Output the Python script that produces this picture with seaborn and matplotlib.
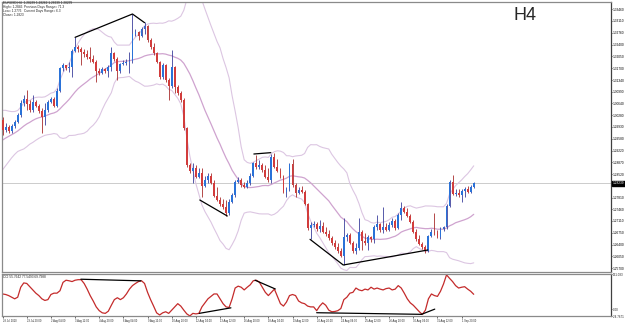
import numpy as np
import pandas as pd
import matplotlib
matplotlib.use("Agg")
import matplotlib.pyplot as plt
import matplotlib.transforms as mtransforms
import seaborn as sns

sns.set_style("white")
plt.rcParams["font.family"] = ["Liberation Sans", "DejaVu Sans"]

# EURUSD H4, 28 Jul 2010 - 2 Sep 2010
open_ = [1.3014, 1.2984, 1.2994, 1.2982, 1.2996, 1.3009, 1.3029, 1.3064, 1.3076, 1.3062,
         1.3044, 1.3069, 1.3056, 1.3042, 1.3024, 1.3044, 1.3069, 1.3078, 1.3056, 1.3102,
         1.3169, 1.3178, 1.3170, 1.3174, 1.3222, 1.3234, 1.3226, 1.3219, 1.3211, 1.3204,
         1.3198, 1.3188, 1.3160, 1.3156, 1.3166, 1.3161, 1.3174, 1.3214, 1.3198, 1.3161,
         1.3182, 1.3184, 1.3188, 1.3190, 1.3272, 1.3278, 1.3266, 1.3286, 1.3296, 1.3254,
         1.3232, 1.3214, 1.3188, 1.3142, 1.3179, 1.3134, 1.3116, 1.3174, 1.3114, 1.3094,
         1.3074, 1.2989, 1.2879, 1.2862, 1.2869, 1.2844, 1.2854, 1.2816, 1.2834, 1.2846,
         1.2826, 1.2786, 1.2774, 1.2762, 1.2754, 1.2734, 1.2769, 1.2789, 1.2829, 1.2834,
         1.2819, 1.2814, 1.2826, 1.2846, 1.2884, 1.2872, 1.2880, 1.2864, 1.2844, 1.2834,
         1.2902, 1.2874, 1.2862, 1.2844, 1.2799, 1.2806, 1.2882, 1.2819, 1.2796, 1.2804,
         1.2798, 1.2762, 1.2689, 1.2699, 1.2702, 1.2686, 1.2696, 1.2679, 1.2672, 1.2659,
         1.2646, 1.2632, 1.2622, 1.2606, 1.2662, 1.2669, 1.2646, 1.2622, 1.2629, 1.2679,
         1.2652, 1.2644, 1.2662, 1.2656, 1.2694, 1.2702, 1.2684, 1.2694, 1.2684, 1.2699,
         1.2712, 1.2689, 1.2729, 1.2749, 1.2739, 1.2726, 1.2709, 1.2679, 1.2656, 1.2642,
         1.2632, 1.2622, 1.2666, 1.2679, 1.2674, 1.2664, 1.2686, 1.2692, 1.2756, 1.2829,
         1.2792, 1.2794, 1.2789, 1.2802, 1.2808, 1.2799, 1.2814]

high = [1.3024, 1.3004, 1.2999, 1.3002, 1.3014, 1.3034, 1.3074, 1.3089, 1.3104, 1.3074,
        1.3089, 1.3074, 1.3062, 1.3049, 1.3064, 1.3074, 1.3084, 1.3084, 1.3109, 1.3174,
        1.3184, 1.3180, 1.3189, 1.3228, 1.3262, 1.3240, 1.3234, 1.3227, 1.3224, 1.3234,
        1.3209, 1.3194, 1.3169, 1.3174, 1.3170, 1.3179, 1.3234, 1.3219, 1.3204, 1.3186,
        1.3194, 1.3196, 1.3219, 1.3332, 1.3286, 1.3282, 1.3294, 1.3309, 1.3299, 1.3259,
        1.3244, 1.3219, 1.3192, 1.3184, 1.3182, 1.3139, 1.3224, 1.3176, 1.3119, 1.3102,
        1.3079, 1.2994, 1.2884, 1.2884, 1.2879, 1.2869, 1.2869, 1.2846, 1.2854, 1.2856,
        1.2834, 1.2814, 1.2784, 1.2776, 1.2774, 1.2776, 1.2794, 1.2834, 1.2842, 1.2839,
        1.2829, 1.2834, 1.2854, 1.2889, 1.2909, 1.2894, 1.2884, 1.2879, 1.2869, 1.2912,
        1.2914, 1.2896, 1.2869, 1.2849, 1.2814, 1.2886, 1.2896, 1.2824, 1.2814, 1.2816,
        1.2804, 1.2766, 1.2709, 1.2712, 1.2709, 1.2714, 1.2709, 1.2694, 1.2684, 1.2666,
        1.2654, 1.2644, 1.2629, 1.2719, 1.2676, 1.2674, 1.2652, 1.2646, 1.2719, 1.2684,
        1.2674, 1.2669, 1.2666, 1.2699, 1.2729, 1.2706, 1.2754, 1.2704, 1.2709, 1.2719,
        1.2716, 1.2734, 1.2769, 1.2756, 1.2749, 1.2732, 1.2714, 1.2686, 1.2669, 1.2649,
        1.2639, 1.2669, 1.2686, 1.2734, 1.2684, 1.2694, 1.2696, 1.2762, 1.2834, 1.2849,
        1.2806, 1.2806, 1.2806, 1.2814, 1.2816, 1.2819, 1.2829]

low = [1.2969, 1.2979, 1.2974, 1.2976, 1.2989, 1.3004, 1.3024, 1.3056, 1.3044, 1.3039,
       1.3039, 1.3052, 1.3036, 1.2974, 1.2999, 1.3039, 1.3064, 1.3052, 1.3052, 1.3098,
       1.3160, 1.3164, 1.3158, 1.3144, 1.3218, 1.3218, 1.3179, 1.3204, 1.3196, 1.3188,
       1.3184, 1.3129, 1.3149, 1.3152, 1.3156, 1.3144, 1.3162, 1.3192, 1.3134, 1.3156,
       1.3179, 1.3180, 1.3154, 1.3186, 1.3266, 1.3254, 1.3262, 1.3272, 1.3249, 1.3226,
       1.3209, 1.3184, 1.3138, 1.3136, 1.3129, 1.3074, 1.3109, 1.3094, 1.3089, 1.3069,
       1.2984, 1.2874, 1.2856, 1.2824, 1.2839, 1.2839, 1.2784, 1.2812, 1.2824, 1.2822,
       1.2782, 1.2770, 1.2756, 1.2746, 1.2726, 1.2729, 1.2764, 1.2784, 1.2824, 1.2814,
       1.2809, 1.2811, 1.2819, 1.2842, 1.2868, 1.2866, 1.2859, 1.2839, 1.2829, 1.2826,
       1.2869, 1.2859, 1.2839, 1.2794, 1.2784, 1.2802, 1.2814, 1.2784, 1.2791, 1.2794,
       1.2759, 1.2684, 1.2656, 1.2692, 1.2682, 1.2679, 1.2674, 1.2666, 1.2654, 1.2639,
       1.2626, 1.2616, 1.2602, 1.2579, 1.2652, 1.2642, 1.2614, 1.2612, 1.2624, 1.2624,
       1.2639, 1.2624, 1.2649, 1.2646, 1.2684, 1.2679, 1.2674, 1.2680, 1.2682, 1.2692,
       1.2684, 1.2686, 1.2714, 1.2736, 1.2722, 1.2706, 1.2674, 1.2652, 1.2638, 1.2628,
       1.2616, 1.2619, 1.2662, 1.2669, 1.2660, 1.2658, 1.2682, 1.2686, 1.2752, 1.2788,
       1.2786, 1.2784, 1.2769, 1.2784, 1.2796, 1.2794, 1.2809]

close = [1.2984, 1.2994, 1.2982, 1.2996, 1.3009, 1.3029, 1.3064, 1.3076, 1.3062, 1.3044,
         1.3069, 1.3056, 1.3042, 1.3024, 1.3044, 1.3069, 1.3078, 1.3056, 1.3102, 1.3169,
         1.3178, 1.3170, 1.3174, 1.3222, 1.3234, 1.3226, 1.3219, 1.3211, 1.3204, 1.3198,
         1.3188, 1.3160, 1.3156, 1.3166, 1.3161, 1.3174, 1.3214, 1.3198, 1.3161, 1.3182,
         1.3184, 1.3188, 1.3190, 1.3272, 1.3278, 1.3266, 1.3286, 1.3296, 1.3254, 1.3232,
         1.3214, 1.3188, 1.3142, 1.3179, 1.3134, 1.3116, 1.3174, 1.3114, 1.3094, 1.3074,
         1.2989, 1.2879, 1.2862, 1.2869, 1.2844, 1.2854, 1.2816, 1.2834, 1.2846, 1.2826,
         1.2786, 1.2774, 1.2762, 1.2754, 1.2734, 1.2769, 1.2789, 1.2829, 1.2834, 1.2819,
         1.2814, 1.2826, 1.2846, 1.2884, 1.2872, 1.2880, 1.2864, 1.2844, 1.2834, 1.2902,
         1.2874, 1.2862, 1.2844, 1.2799, 1.2806, 1.2882, 1.2819, 1.2796, 1.2804, 1.2798,
         1.2762, 1.2689, 1.2699, 1.2702, 1.2686, 1.2696, 1.2679, 1.2672, 1.2659, 1.2646,
         1.2632, 1.2622, 1.2606, 1.2662, 1.2669, 1.2646, 1.2622, 1.2629, 1.2679, 1.2652,
         1.2644, 1.2662, 1.2656, 1.2694, 1.2702, 1.2684, 1.2694, 1.2684, 1.2699, 1.2712,
         1.2689, 1.2729, 1.2749, 1.2739, 1.2726, 1.2709, 1.2679, 1.2656, 1.2642, 1.2632,
         1.2622, 1.2666, 1.2679, 1.2674, 1.2664, 1.2686, 1.2692, 1.2756, 1.2829, 1.2792,
         1.2794, 1.2789, 1.2802, 1.2808, 1.2799, 1.2814, 1.2824]

# cierres antes de la ventana visible, solo para que las bandas (20, 2) empiecen en el borde
warmup_close = [1.2876, 1.2884, 1.2892, 1.2904, 1.2912, 1.2919, 1.2926, 1.2934, 1.2946, 1.2954,
                1.2962, 1.2974, 1.2982, 1.2989, 1.2999, 1.3004, 1.3012, 1.3019, 1.3006]

cci = [57, 55, 51, 45, 39, 45, 82, 98, 96, 84,
       72, 60, 51, 39, 33, 36, 55, 60, 60, 69,
       100, 108, 106, 103, 108, 110, 110, 96, 75, 51,
       31, 9, -5, -13, -15, -7, 15, 36, 43, 36,
       43, 57, 75, 88, 96, 103, 106, 96, 63, 36,
       12, -13, -21, -13, -9, -15, -3, 9, 21, 12,
       -3, -17, -24.5, -15, -17, -15, 9, 24, 39, 48,
       57, 57, 39, 21, 9, 7, 39, 79, 86, 82,
       72, 82, 91, 106, 108, 101, 82, 63, 51, 63,
       75, 48, 21, 12, 27, 51, 55, 51, 31, 24,
       21, 12, 9, 9, -5, 12, 24, 15, -3, -9,
       -8, -5, 3, 36, 45, 60, 63, 79, 72, 69,
       75, 72, 82, 75, 79, 75, 72, 77, 79, 72,
       75, 88, 79, 60, 39, 24, 15, 3, -9, -19,
       -3, 39, 57, 51, 48, 67, 94, 128, 115, 103,
       88, 79, 82, 84, 75, 67, 55.76]

date_labels = ["28 Jul 2010", "29 Jul 20:00", "2 Aug 04:00", "3 Aug 12:00", "4 Aug 20:00",
               "6 Aug 04:00", "9 Aug 12:00", "10 Aug 20:00", "12 Aug 04:00", "13 Aug 12:00",
               "16 Aug 20:00", "18 Aug 04:00", "19 Aug 12:00", "20 Aug 20:00", "24 Aug 04:00",
               "25 Aug 12:00", "26 Aug 20:00", "30 Aug 04:00", "31 Aug 12:00", "1 Sep 20:00"]
price_ticks = [1.33460, 1.33110, 1.32760, 1.32400, 1.32050, 1.31700, 1.31340, 1.30990,
               1.30640, 1.30280, 1.29930, 1.29580, 1.29220, 1.28870, 1.28520, 1.27810,
               1.27460, 1.27110, 1.26750, 1.26400, 1.26050, 1.25700]
cci_ticks = [131.083, 0.0, -24.7671]
cci_tick_labels = ["131.083", "0.00", "-24.7671"]
last_price = 1.28239

# lineas de divergencia (barra, valor)
price_lines = [([24, 43, 47], [1.3262, 1.3332, 1.3306]),
               ([65.3, 74.4], [1.2774, 1.2726]),
               ([83.2, 88.8], [1.2912, 1.2916]),
               ([101.8, 112.8, 140.8], [1.2656, 1.2579, 1.2624])]
cci_lines = [([25.9, 45.8], [111.7, 105.7]),
             ([65.1, 75.6], [-15, 5.5]),
             ([83.6, 90.3], [108, 75.5]),
             ([104, 138.7], [-12.6, -18.6]),
             ([138.7, 143.1], [-18.6, 0.7])]

df = pd.DataFrame({"open": open_, "high": high, "low": low, "close": close})
df["bar"] = np.arange(len(df))

# bandas de bollinger 20, 2
allc = pd.Series(warmup_close + close)
n0 = len(warmup_close)
df["ma"] = allc.rolling(20).mean().iloc[n0:].values
sd = allc.rolling(20).std(ddof=0).iloc[n0:].values
df["upper"] = df["ma"] + 2 * sd
df["lower"] = df["ma"] - 2 * sd

fig = plt.figure(figsize=(6.25, 3.26), dpi=100)
fig.patch.set_facecolor("white")
W, H = 625, 326
ax = fig.add_axes([2 / W, 1 - 272 / H, 609 / W, 270 / H])
ax2 = fig.add_axes([2 / W, 1 - 316 / H, 609 / W, 42 / H])

xmin, xmax = -0.2, 201.46

# precio
ax.axhline(last_price, color="#c4c4c4", lw=0.6, zorder=1)
sns.lineplot(x=df["bar"], y=df["upper"], ax=ax, color="#dcc6e2", lw=0.8, zorder=2)
sns.lineplot(x=df["bar"], y=df["lower"], ax=ax, color="#dcc6e2", lw=0.8, zorder=2)
sns.lineplot(x=df["bar"], y=df["ma"], ax=ax, color="#cfa3cf", lw=0.9, zorder=2)

bull = df["close"] >= df["open"]
body_col = np.where(bull, "#2a72d8", "#d23c3c")
wick_col = np.where(bull, "#3b3f9c", "#a82c2c")
ax.vlines(df["bar"], df["low"], df["high"], colors=wick_col, lw=0.6, zorder=3)
body = (df["close"] - df["open"]).abs().clip(lower=0.00008)
ax.bar(df["bar"], body, bottom=df[["open", "close"]].min(axis=1), width=0.62,
       color=body_col, linewidth=0, zorder=4)

for xs, ys in price_lines:
    ax.plot(xs, ys, color="black", lw=0.9, zorder=5)

ax.set_xlim(xmin, xmax)
ax.set_ylim(1.2558, 1.3368)
ax.set_xlabel("")
ax.set_ylabel("")
ax.set_xticks([])
ax.yaxis.tick_right()
ax.set_yticks(price_ticks)
ax.set_yticklabels([f"{v:.5f}" for v in price_ticks])
ax.tick_params(axis="y", labelsize=2.3, length=1.0, width=0.5, pad=0.5, right=True, colors="black")

trans = mtransforms.blended_transform_factory(ax.transAxes, ax.transData)
ax.text(1.003, last_price, f"{last_price:.5f}", transform=trans, fontsize=2.3, color="white",
        va="center", ha="left",
        bbox=dict(boxstyle="square,pad=0.15", fc="black", ec="black"))

# CCI
sns.lineplot(x=df["bar"], y=cci, ax=ax2, color="#c42b2b", lw=0.9, zorder=2)
for xs, ys in cci_lines:
    ax2.plot(xs, ys, color="black", lw=0.9, zorder=3)
ax2.set_xlim(xmin, xmax)
ax2.set_ylim(cci_ticks[2], cci_ticks[0])
ax2.set_xlabel("")
ax2.set_ylabel("")
ax2.yaxis.tick_right()
ax2.set_yticks(cci_ticks)
ax2.set_yticklabels(cci_tick_labels)
ax2.tick_params(axis="y", labelsize=2.2, length=1.0, width=0.5, pad=0.5, right=True)
ax2.set_xticks(np.arange(len(date_labels)) * 8)
ax2.set_xticklabels(date_labels, ha="left")
ax2.tick_params(axis="x", labelsize=1.9, length=1.5, width=0.5, pad=1, bottom=True)

for a in (ax, ax2):
    for s in a.spines.values():
        s.set_color("#8a8a8a")
        s.set_linewidth(0.9)
    a.spines["right"].set_color("#404040")

# textos
fig.text(3 / W, 1 - 3 / H, "EURUSD,H4  1.28239 1.28262 1.28239 1.28239", fontsize=2.3, va="center")
fig.text(3 / W, 1 - 7 / H, "High= 1.2846", fontsize=2.3, va="center")
fig.text(24 / W, 1 - 7 / H, "Previous Days Range= 71.3", fontsize=2.3, va="center")
fig.text(3 / W, 1 - 11 / H, "Low= 1.2776", fontsize=2.3, va="center")
fig.text(24 / W, 1 - 11 / H, "Current Days Range= 6.3", fontsize=2.3, va="center")
fig.text(3 / W, 1 - 15 / H, "Close= 1.2823", fontsize=2.3, va="center")
fig.text(525 / W, 1 - 15 / H, "H4", fontsize=13, ha="center", va="center")
fig.text(3 / W, 1 - 277 / H, "CCI 55.7642 77.5493 69.7988", fontsize=2.3, va="center")

fig.savefig("out.png", dpi=100, facecolor="white")
